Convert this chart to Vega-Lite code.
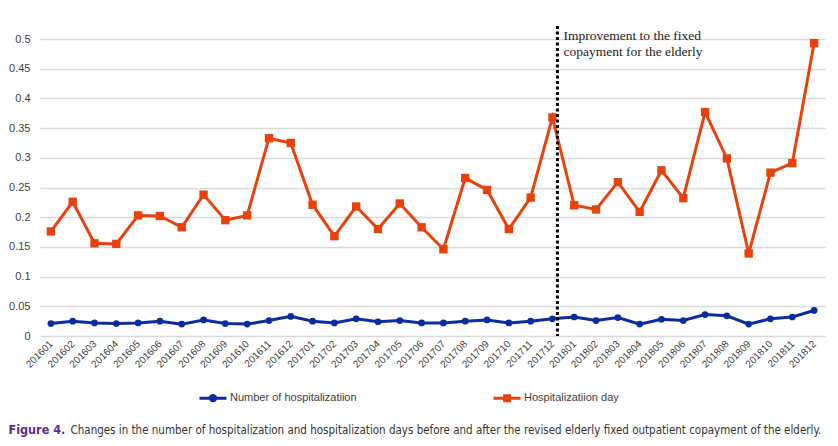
{
  "$schema": "https://vega.github.io/schema/vega-lite/v6.json",
  "width": 785,
  "height": 297,
  "autosize": "none",
  "padding": {"left": 40, "top": 39, "right": 13, "bottom": 110},
  "background": "white",
  "config": {
    "view": {"stroke": null},
    "font": "Liberation Sans",
    "axisY": {"tickCount": 10}
  },
  "datasets": {
    "main": [
      {"month": "201601", "series": "Number of hospitalizatiion", "value": 0.021},
      {"month": "201602", "series": "Number of hospitalizatiion", "value": 0.025},
      {"month": "201603", "series": "Number of hospitalizatiion", "value": 0.022},
      {"month": "201604", "series": "Number of hospitalizatiion", "value": 0.021},
      {"month": "201605", "series": "Number of hospitalizatiion", "value": 0.022},
      {"month": "201606", "series": "Number of hospitalizatiion", "value": 0.025},
      {"month": "201607", "series": "Number of hospitalizatiion", "value": 0.020},
      {"month": "201608", "series": "Number of hospitalizatiion", "value": 0.027},
      {"month": "201609", "series": "Number of hospitalizatiion", "value": 0.021},
      {"month": "201610", "series": "Number of hospitalizatiion", "value": 0.020},
      {"month": "201611", "series": "Number of hospitalizatiion", "value": 0.026},
      {"month": "201612", "series": "Number of hospitalizatiion", "value": 0.033},
      {"month": "201701", "series": "Number of hospitalizatiion", "value": 0.025},
      {"month": "201702", "series": "Number of hospitalizatiion", "value": 0.022},
      {"month": "201703", "series": "Number of hospitalizatiion", "value": 0.029},
      {"month": "201704", "series": "Number of hospitalizatiion", "value": 0.024},
      {"month": "201705", "series": "Number of hospitalizatiion", "value": 0.026},
      {"month": "201706", "series": "Number of hospitalizatiion", "value": 0.022},
      {"month": "201707", "series": "Number of hospitalizatiion", "value": 0.022},
      {"month": "201708", "series": "Number of hospitalizatiion", "value": 0.025},
      {"month": "201709", "series": "Number of hospitalizatiion", "value": 0.027},
      {"month": "201710", "series": "Number of hospitalizatiion", "value": 0.022},
      {"month": "201711", "series": "Number of hospitalizatiion", "value": 0.025},
      {"month": "201712", "series": "Number of hospitalizatiion", "value": 0.029},
      {"month": "201801", "series": "Number of hospitalizatiion", "value": 0.032},
      {"month": "201802", "series": "Number of hospitalizatiion", "value": 0.026},
      {"month": "201803", "series": "Number of hospitalizatiion", "value": 0.031},
      {"month": "201804", "series": "Number of hospitalizatiion", "value": 0.020},
      {"month": "201805", "series": "Number of hospitalizatiion", "value": 0.028},
      {"month": "201806", "series": "Number of hospitalizatiion", "value": 0.026},
      {"month": "201807", "series": "Number of hospitalizatiion", "value": 0.036},
      {"month": "201808", "series": "Number of hospitalizatiion", "value": 0.034},
      {"month": "201809", "series": "Number of hospitalizatiion", "value": 0.020},
      {"month": "201810", "series": "Number of hospitalizatiion", "value": 0.029},
      {"month": "201811", "series": "Number of hospitalizatiion", "value": 0.032},
      {"month": "201812", "series": "Number of hospitalizatiion", "value": 0.043},
      {"month": "201601", "series": "Hospitalizatiion day", "value": 0.176},
      {"month": "201602", "series": "Hospitalizatiion day", "value": 0.226},
      {"month": "201603", "series": "Hospitalizatiion day", "value": 0.156},
      {"month": "201604", "series": "Hospitalizatiion day", "value": 0.155},
      {"month": "201605", "series": "Hospitalizatiion day", "value": 0.203},
      {"month": "201606", "series": "Hospitalizatiion day", "value": 0.202},
      {"month": "201607", "series": "Hospitalizatiion day", "value": 0.183},
      {"month": "201608", "series": "Hospitalizatiion day", "value": 0.238},
      {"month": "201609", "series": "Hospitalizatiion day", "value": 0.195},
      {"month": "201610", "series": "Hospitalizatiion day", "value": 0.203},
      {"month": "201611", "series": "Hospitalizatiion day", "value": 0.333},
      {"month": "201612", "series": "Hospitalizatiion day", "value": 0.325},
      {"month": "201701", "series": "Hospitalizatiion day", "value": 0.221},
      {"month": "201702", "series": "Hospitalizatiion day", "value": 0.168},
      {"month": "201703", "series": "Hospitalizatiion day", "value": 0.218},
      {"month": "201704", "series": "Hospitalizatiion day", "value": 0.180},
      {"month": "201705", "series": "Hospitalizatiion day", "value": 0.223},
      {"month": "201706", "series": "Hospitalizatiion day", "value": 0.183},
      {"month": "201707", "series": "Hospitalizatiion day", "value": 0.146},
      {"month": "201708", "series": "Hospitalizatiion day", "value": 0.266},
      {"month": "201709", "series": "Hospitalizatiion day", "value": 0.246},
      {"month": "201710", "series": "Hospitalizatiion day", "value": 0.180},
      {"month": "201711", "series": "Hospitalizatiion day", "value": 0.233},
      {"month": "201712", "series": "Hospitalizatiion day", "value": 0.368},
      {"month": "201801", "series": "Hospitalizatiion day", "value": 0.220},
      {"month": "201802", "series": "Hospitalizatiion day", "value": 0.213},
      {"month": "201803", "series": "Hospitalizatiion day", "value": 0.259},
      {"month": "201804", "series": "Hospitalizatiion day", "value": 0.209},
      {"month": "201805", "series": "Hospitalizatiion day", "value": 0.279},
      {"month": "201806", "series": "Hospitalizatiion day", "value": 0.232},
      {"month": "201807", "series": "Hospitalizatiion day", "value": 0.377},
      {"month": "201808", "series": "Hospitalizatiion day", "value": 0.299},
      {"month": "201809", "series": "Hospitalizatiion day", "value": 0.139},
      {"month": "201810", "series": "Hospitalizatiion day", "value": 0.275},
      {"month": "201811", "series": "Hospitalizatiion day", "value": 0.291},
      {"month": "201812", "series": "Hospitalizatiion day", "value": 0.493}
    ],
    "note": [
      {"month": "201712", "value": 0.522, "bottom": 0}
    ],
    "notetext": [
      {"month": "201712", "value": 0.498, "label": "Improvement to the fixed\ncopayment for the elderly"}
    ]
  },
  "encoding": {
    "x": {
      "field": "month", "type": "ordinal",
      "scale": {"type": "point", "padding": 0.5},
      "title": "Changes in the number of hospitalization and hospitalization days before and after the revised elderly fixed outpatient copayment of the elderly.",
      "axis": {
        "domain": false, "ticks": false, "grid": false,
        "labelAngle": -45, "labelAlign": "right", "labelBaseline": "middle",
        "labelFontSize": 10, "labelColor": "#404040", "labelPadding": 6,
        "titleX": 30, "titleY": 97, "titleAlign": "left", "titleAnchor": null,
        "titleBaseline": "alphabetic", "titleFont": "DejaVu Sans Condensed",
        "titleFontSize": 11.5, "titleFontWeight": "normal", "titleColor": "#333333"
      }
    },
    "y": {
      "field": "value", "type": "quantitative",
      "scale": {"domain": [0, 0.5], "nice": false},
      "title": "Figure 4.",
      "axis": {
        "tickCount": 10,
        "tickMinStep": 0.05,
        "labelOverlap": false,
        "format": "~g",
        "domain": false, "ticks": false,
        "gridColor": "#d9d9d9", "gridWidth": 1.5,
        "labelFontSize": 11, "labelColor": "#404040", "labelPadding": 10,
        "titleAngle": 0, "titleX": -32, "titleY": 394, "titleAlign": "left",
        "titleBaseline": "alphabetic", "titleFont": "DejaVu Sans Condensed",
        "titleFontSize": 12.5, "titleFontWeight": "bold", "titleColor": "#5b2d8e"
      }
    }
  },
  "layer": [
    {
      "data": {"name": "main"},
      "mark": {"type": "line", "strokeWidth": 3},
      "encoding": {
        "color": {
          "field": "series", "type": "nominal",
          "scale": {"domain": ["Number of hospitalizatiion", "Hospitalizatiion day"], "range": ["#0b2c9c", "#e8420c"]},
          "legend": {
            "orient": "none", "legendX": 158, "legendY": 344,
            "direction": "horizontal", "title": null,
            "symbolSize": 729, "symbolStrokeWidth": 3,
            "labelFontSize": 11, "labelColor": "#404040", "labelOffset": 2,
            "columnPadding": 130, "padding": 0,
            "encode": {
              "symbols": {
                "update": {
                  "shape": {"signal": "datum.value === 'Number of hospitalizatiion' ? 'M-1,0L1,0M0.2,0A0.2,0.2 0 1 1 -0.2,0A0.2,0.2 0 1 1 0.2,0Z' : 'M-1,0L1,0M-0.18,-0.18L0.18,-0.18L0.18,0.18L-0.18,0.18Z'"},
                  "fill": {"signal": "datum.value === 'Number of hospitalizatiion' ? '#0b2c9c' : '#e8420c'"},
                  "stroke": {"signal": "datum.value === 'Number of hospitalizatiion' ? '#0b2c9c' : '#e8420c'"},
                  "opacity": {"value": 1},
                  "fillOpacity": {"value": 1}
                }
              }
            }
          }
        }
      }
    },
    {
      "data": {"name": "main"},
      "transform": [{"filter": "datum.series === 'Number of hospitalizatiion'"}],
      "mark": {"type": "point", "shape": "circle", "filled": true, "opacity": 1, "size": 45, "color": "#0b2c9c"}
    },
    {
      "data": {"name": "main"},
      "transform": [{"filter": "datum.series === 'Hospitalizatiion day'"}],
      "mark": {"type": "point", "shape": "square", "filled": true, "opacity": 1, "size": 70, "color": "#e8420c"}
    },
    {
      "data": {"name": "note"},
      "mark": {"type": "rule", "color": "#000000", "strokeWidth": 3, "strokeDash": [3, 2.5], "xOffset": 5},
      "encoding": {
        "y2": {"field": "bottom"}
      }
    },
    {
      "data": {"name": "notetext"},
      "mark": {"type": "text", "align": "left", "baseline": "alphabetic", "dx": 11, "lineBreak": "\n", "lineHeight": 16, "font": "Liberation Serif", "fontSize": 13.5, "color": "#222222"},
      "encoding": {
        "text": {"field": "label"}
      }
    }
  ]
}
